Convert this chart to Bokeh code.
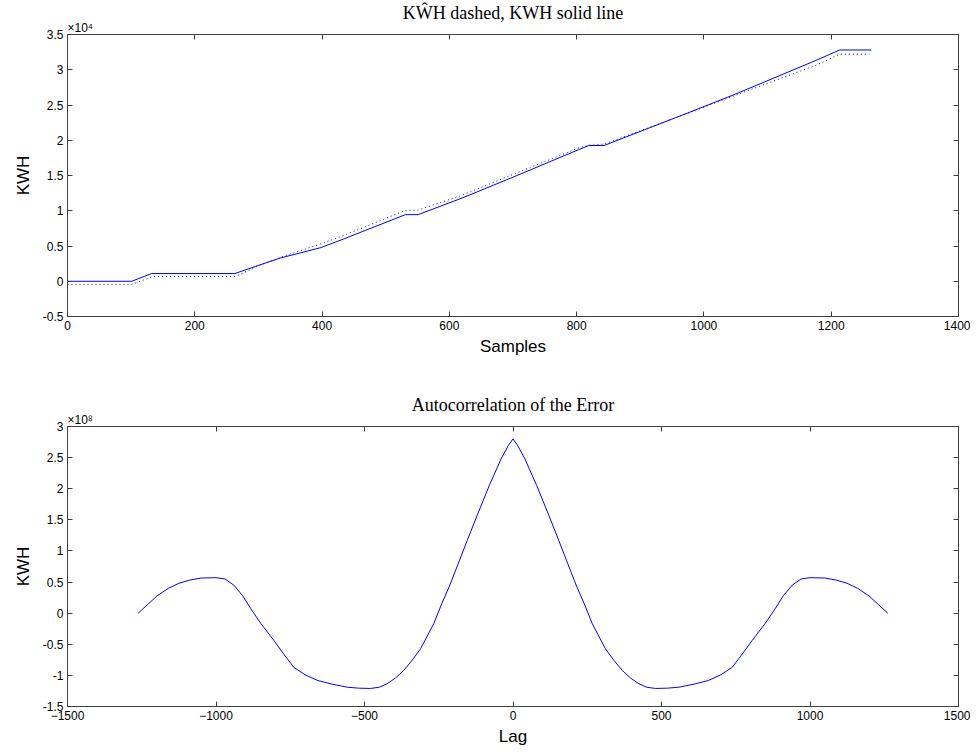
from bokeh.plotting import figure
from bokeh.models import Range1d, FixedTicker, LinearAxis, Title
from bokeh.layouts import column
from bokeh.embed import file_html
from bokeh.resources import INLINE

# ---------------- data ----------------
samples_solid = [0, 101, 132, 263, 300, 335, 398, 434, 531, 551, 620, 701, 803, 819, 843, 974, 1047, 1178, 1213, 1263]
kwh_solid = [0, 0, 1090, 1090, 2250, 3310, 4770, 6000, 9450, 9450, 11800, 14800, 18660, 19250, 19250, 23850, 26450, 31400, 32800, 32800]

samples_est = [0, 101, 135, 265, 300, 335, 398, 434, 531, 551, 620, 701, 803, 819, 843, 974, 1047, 1178, 1213, 1260]
kwh_est = [-450, -450, 700, 700, 2200, 3400, 5300, 6500, 10050, 10100, 12200, 15200, 18900, 19300, 19450, 23800, 26300, 30700, 32200, 32200]

lag = [-1262, -1230, -1198, -1160, -1125, -1090, -1050, -1000, -970, -940, -910, -884, -850, -805, -770, -738, -700, -659, -610,
       -558, -520, -480, -450, -424, -395, -368, -340, -311, -290, -267, -240, -211, -180, -154, -120, -80, -40, -15, 0,
       15, 40, 80, 120, 154, 180, 211, 240, 267, 290, 311, 340, 368, 395, 424, 450, 480, 520, 558,
       610, 659, 700, 738, 770, 805, 850, 884, 910, 940, 970, 1000, 1050, 1090, 1125, 1160, 1198, 1230, 1262]
autocorr = [0.0e8, 0.14e8, 0.28e8, 0.40e8, 0.48e8, 0.53e8, 0.565e8, 0.57e8, 0.55e8, 0.45e8, 0.28e8, 0.08e8, -0.16e8, -0.44e8,
            -0.67e8, -0.87e8, -0.99e8, -1.08e8, -1.14e8, -1.19e8, -1.205e8, -1.21e8, -1.19e8, -1.135e8, -1.04e8, -0.92e8,
            -0.76e8, -0.57e8, -0.38e8, -0.17e8, 0.15e8, 0.47e8, 0.85e8, 1.17e8, 1.58e8, 2.05e8, 2.48e8, 2.7e8, 2.8e8,
            2.7e8, 2.48e8, 2.05e8, 1.58e8, 1.17e8, 0.85e8, 0.47e8, 0.15e8, -0.17e8, -0.38e8, -0.57e8, -0.76e8, -0.92e8,
            -1.04e8, -1.135e8, -1.19e8, -1.21e8, -1.205e8, -1.19e8, -1.14e8, -1.08e8, -0.99e8, -0.87e8, -0.67e8, -0.44e8,
            -0.16e8, 0.08e8, 0.28e8, 0.45e8, 0.55e8, 0.57e8, 0.565e8, 0.53e8, 0.48e8, 0.40e8, 0.28e8, 0.14e8, 0.0e8]

top_xticks = [0, 200, 400, 600, 800, 1000, 1200, 1400]
top_yticks = [-5000, 0, 5000, 10000, 15000, 20000, 25000, 30000, 35000]
top_ylabels = ["-0.5", "0", "0.5", "1", "1.5", "2", "2.5", "3", "3.5"]
bot_xticks = [-1500, -1000, -500, 0, 500, 1000, 1500]
bot_yticks = [-1.5e8, -1e8, -0.5e8, 0, 0.5e8, 1e8, 1.5e8, 2e8, 2.5e8, 3e8]
bot_ylabels = ["-1.5", "-1", "-0.5", "0", "0.5", "1", "1.5", "2", "2.5", "3"]

AX = "#404040"
FONT = "Liberation Sans"


def style_axis(ax, ticks, labels=True):
    ax.axis_line_color = AX
    ax.major_tick_line_color = AX
    ax.major_tick_in = 5
    ax.major_tick_out = 0
    ax.minor_tick_line_color = None
    ax.major_label_text_font = FONT
    ax.major_label_text_color = "black"
    ax.axis_label_text_font = FONT
    ax.axis_label_text_font_style = "normal"
    ax.axis_label_text_font_size = "17px"
    ax.axis_label_text_color = "black"
    if labels:
        ax.major_label_text_font_size = "12px"
        ax.major_label_standoff = 4
    else:
        ax.major_label_text_font_size = "1px"
        ax.major_label_standoff = 0
        ax.major_label_overrides = {t: "" for t in ticks}


def make_fig(height, xr, yr, xticks, yticks, ylabels, xlabel, title, expo, border_top, border_bottom):
    p = figure(width=970, height=height, x_range=Range1d(*xr), y_range=Range1d(*yr),
               output_backend="svg", toolbar_location=None, title=None,
               min_border_left=67, min_border_right=12,
               min_border_top=border_top, min_border_bottom=border_bottom)
    p.grid.visible = False
    p.outline_line_color = AX
    p.background_fill_color = "white"
    p.border_fill_color = "white"
    p.xaxis.ticker = FixedTicker(ticks=xticks)
    p.yaxis.ticker = FixedTicker(ticks=yticks)
    style_axis(p.xaxis[0], xticks)
    style_axis(p.yaxis[0], yticks)
    p.yaxis.major_label_overrides = {t: l for t, l in zip(yticks, ylabels)}
    p.xaxis.axis_label = xlabel
    p.xaxis.axis_label_standoff = 4
    p.yaxis.axis_label = "KWH"
    p.yaxis.axis_label_standoff = 7
    top = LinearAxis(ticker=FixedTicker(ticks=xticks))
    right = LinearAxis(ticker=FixedTicker(ticks=yticks))
    style_axis(top, xticks, labels=False)
    style_axis(right, yticks, labels=False)
    p.add_layout(top, "above")
    p.add_layout(right, "right")
    p.add_layout(Title(text=expo, align="left", text_font=FONT, text_font_size="12px",
                       text_font_style="normal", text_color="black", standoff=0), "above")
    p.add_layout(Title(text=title, align="center", text_font="Liberation Serif", text_font_size="18px",
                       text_font_style="normal", text_color="black", standoff=-8), "above")
    return p


p1 = make_fig(380, (0, 1400), (-5000, 35000), top_xticks, top_yticks, top_ylabels, "Samples",
              "K\u0174H dashed, KWH solid line", "\u00d710\u2074", 34, 64)
p1.line(samples_solid, kwh_solid, line_color="#0000ff", line_width=1)
p1.line(samples_est, kwh_est, line_color="#0000ff", line_width=1, line_dash="1 3")

p2 = make_fig(374, (-1500, 1500), (-1.5e8, 3e8), bot_xticks, bot_yticks, bot_ylabels, "Lag",
              "Autocorrelation of the Error", "\u00d710\u2078", 46, 48)
p2.line(lag, autocorr, line_color="#0000ff", line_width=1)

layout = column(p1, p2, spacing=0)
open("out.html", "w").write(file_html(layout, INLINE))
